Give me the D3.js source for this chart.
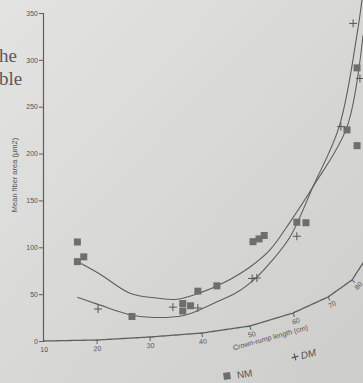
<!DOCTYPE html>
<html>
<head>
<meta charset="utf-8">
<script src="https://cdn.jsdelivr.net/npm/d3@7"></script>
<style>
  body { margin: 0; background: #d8d8d6; }
  svg { display: block; }
  .tick text { fill: #555; }
</style>
</head>
<body>
<svg id="chart" width="363" height="383"></svg>
<script>
// values
const xTicks = [10, 20, 30, 40, 50, 60, 70, 80];
const yTicks = [0, 50, 100, 150, 200, 250, 300, 350];

const nmX = [16.3, 16.3, 17.5, 26.6, 36.3, 36.3, 37.8, 39.2, 43.1, 50.7, 52.1, 53.3, 61.1, 63.7, 77.9, 82.3, 82.3];
const nmY = [105, 84, 89, 23, 33, 25, 30, 45, 48, 89, 90, 92, 95, 90, 164, 218, 135];

const dmX = [20.2, 34.4, 39.2, 50.5, 51.6, 61.1, 75.4, 80.5, 83.6];
const dmY = [33, 30, 27, 50, 49, 80, 172, 272, 202];

const nmFitX = [17, 20.6, 26.2, 31.3, 35.2, 39.6, 44.4, 50, 54.7, 59.3, 65.7, 77.9, 85];
const nmFitY = [82, 70, 48, 41, 38, 43, 50, 63, 75, 98, 125, 167, 243];

const dmFitX = [16.3, 20.6, 26.2, 30, 36.3, 39.6, 43.1, 47.3, 51.6, 54.7, 59.3, 65.7, 74.6, 82.3, 86];
const dmFitY = [46, 37, 25, 21, 20, 25, 31, 38, 50, 61, 82, 125, 173, 254, 300];

const svg = d3.select("#chart");
const W = 363, H = 383;
const INK = "#5e5e5e";
const FONT = "Liberation Sans, Arial, sans-serif";

// paper background
const defs = svg.append("defs");
const grad = defs.append("linearGradient").attr("id", "paper")
    .attr("x1", 0).attr("y1", 0).attr("x2", 1).attr("y2", 1);
grad.append("stop").attr("offset", 0).attr("stop-color", "#e3e3e1");
grad.append("stop").attr("offset", 1).attr("stop-color", "#cdcdcb");
svg.append("rect").attr("width", W).attr("height", H).attr("fill", "url(#paper)");

// the page is bent: x spacing shrinks and the baseline lifts toward the right
const xScale = d3.scaleLinear()
    .domain([10, 20, 30, 40, 50, 60, 70, 80, 85, 90])
    .range([44, 97, 150, 202, 250, 293, 328, 352, 363, 372]);
const lift = d3.scaleLinear()
    .domain([10, 20, 30, 40, 50, 60, 70, 80, 85, 90])
    .range([0, 1, 4, 8, 15, 28, 44, 61, 78, 100]);
const yScale = d3.scaleLinear().domain([0, 350]).range([341, 13]);

const px = (x, v) => [xScale(x), yScale(v) - lift(x)];
const slope = x => {
    const a = px(x - 1, 0), b = px(x + 1, 0);
    return Math.atan2(b[1] - a[1], b[0] - a[0]) * 180 / Math.PI;
};

// facing page text bleeding in
svg.append("text").attr("x", -1).attr("y", 62).text("he")
   .attr("font-family", "Liberation Serif, serif").attr("font-size", 19).attr("fill", "#5a5a5a");
svg.append("text").attr("x", -1).attr("y", 85).text("ble")
   .attr("font-family", "Liberation Serif, serif").attr("font-size", 19).attr("fill", "#5a5a5a");

// y axis
const yAxis = d3.axisLeft(yScale).tickValues(yTicks).tickSize(4).tickPadding(1);
const gy = svg.append("g").attr("transform", "translate(43,0)").call(yAxis);
gy.select(".domain").attr("stroke", INK).attr("stroke-width", 1.2);
gy.selectAll(".tick line").attr("stroke", INK);
gy.selectAll(".tick text").attr("font-family", FONT).attr("font-size", 7);

svg.append("text")
   .attr("transform", "translate(17,175) rotate(-90)")
   .attr("text-anchor", "middle")
   .attr("font-family", FONT).attr("font-size", 7.5).attr("fill", "#555")
   .text("Mean fiber area (\u00b5m2)");

// curved x axis
const axisLine = d3.line().curve(d3.curveCatmullRom);
svg.append("path")
   .attr("d", axisLine(d3.range(10, 90.5, 1).map(x => px(x, 0))))
   .attr("fill", "none").attr("stroke", INK).attr("stroke-width", 1.3);

const gx = svg.append("g");
xTicks.forEach(t => {
    const [x, y] = px(t, 0);
    const a = slope(t);
    const g = gx.append("g").attr("transform", `translate(${x},${y}) rotate(${a})`);
    if (t > 10) g.append("line").attr("y1", 0).attr("y2", 4).attr("stroke", INK);
    g.append("text").attr("y", 11).attr("text-anchor", "middle")
     .attr("font-family", FONT).attr("font-size", 7).attr("fill", "#555").text(t);
});

svg.append("text")
   .attr("transform", "translate(271,340) rotate(-15.5)")
   .attr("text-anchor", "middle")
   .attr("font-family", FONT).attr("font-size", 7.2).attr("fill", "#555")
   .text("Crown-rump length (cm)");

// fitted curves
const fit = d3.line().curve(d3.curveCatmullRom);
svg.append("path")
   .attr("d", fit(nmFitX.map((x, i) => px(x, nmFitY[i]))))
   .attr("fill", "none").attr("stroke", INK).attr("stroke-width", 1.1);
svg.append("path")
   .attr("d", fit(dmFitX.map((x, i) => px(x, dmFitY[i]))))
   .attr("fill", "none").attr("stroke", INK).attr("stroke-width", 1.1);

// NM squares
svg.append("g").selectAll("rect")
   .data(nmX.map((x, i) => px(x, nmY[i])))
   .enter()
   .append("rect")
   .attr("x", d => d[0] - 3.5)
   .attr("y", d => d[1] - 3.5)
   .attr("width", 7)
   .attr("height", 7)
   .attr("fill", "#6e6e6e");

// DM plus signs
svg.append("g").selectAll("path")
   .data(dmX.map((x, i) => px(x, dmY[i])))
   .enter()
   .append("path")
   .attr("d", d => `M${d[0] - 4},${d[1]}H${d[0] + 4}M${d[0]},${d[1] - 4}V${d[1] + 4}`)
   .attr("stroke", "#555")
   .attr("stroke-width", 1);

// legend
const lgNM = svg.append("g").attr("transform", "translate(227,376) rotate(-8)");
lgNM.append("rect").attr("x", -3.5).attr("y", -3.5).attr("width", 7).attr("height", 7).attr("fill", "#6e6e6e");
lgNM.append("text").attr("x", 10).attr("y", 4).attr("font-family", FONT)
    .attr("font-size", 10).attr("fill", "#555").text("NM");

const lgDM = svg.append("g").attr("transform", "translate(295,357) rotate(-15)");
lgDM.append("path").attr("d", "M-3.5,0H3.5M0,-3.5V3.5").attr("stroke", "#555").attr("stroke-width", 1.2);
lgDM.append("text").attr("x", 6).attr("y", 4).attr("font-family", FONT)
    .attr("font-size", 10).attr("font-style", "italic").attr("fill", "#555").text("DM");
</script>
</body>
</html>
